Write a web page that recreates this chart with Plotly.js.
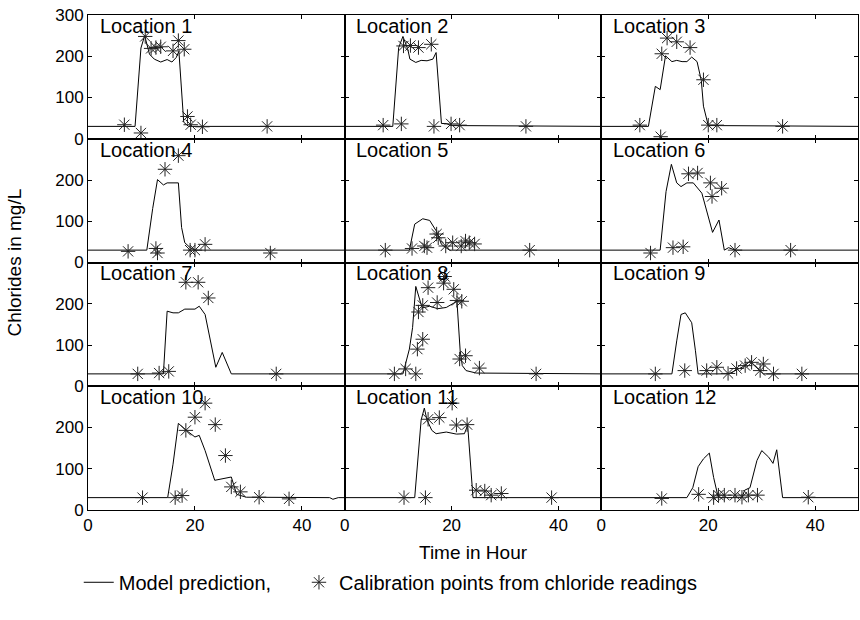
<!DOCTYPE html>
<html>
<head>
<meta charset="utf-8">
<script src="https://cdn.plot.ly/plotly-3.0.1.min.js"></script>
<style>html,body{margin:0;padding:0;background:#fff;}#chart{width:860px;height:620px;}</style>
</head>
<body>
<div id="chart"></div>
<script>
// ---- Data (time in hours, chlorides in mg/L) ----
const locationNames = ['Location 1','Location 2','Location 3','Location 4','Location 5','Location 6',
  'Location 7','Location 8','Location 9','Location 10','Location 11','Location 12'];
const xTicks = [0, 20, 40];
const yTicks = [0, 100, 200, 300];

const modelT1 = [0, 8.8, 9.9, 10.6, 11.5, 12.4, 13.6, 14.8, 15.7, 16.5, 17.0, 17.9, 18.8, 48];
const modelV1 = [30, 30, 220, 250, 205, 193, 186, 192, 186, 197, 212, 40, 30, 30];
const calT1 = [6.8, 9.9, 10.7, 11.8, 12.7, 13.6, 15.9, 16.9, 18.0, 18.6, 19.2, 21.4, 33.5];
const calV1 = [34, 14, 248, 219, 221, 223, 213, 238, 217, 54, 34, 29, 30];

const modelT2 = [0, 9.0, 10.1, 10.9, 11.8, 12.2, 13.3, 14.3, 15.4, 16.5, 17.1, 18.1, 19.0, 19.9, 48];
const modelV2 = [30, 30, 221, 248, 217, 193, 185, 190, 189, 193, 209, 37, 37, 32, 30];
const calT2 = [7.2, 10.6, 11.0, 12.3, 13.8, 16.2, 16.7, 19.9, 21.5, 33.9];
const calV2 = [33, 36, 225, 226, 221, 229, 30, 36, 33, 30];

const modelT3 = [0, 8.8, 10.1, 11.0, 12.0, 13.2, 14.1, 15.1, 16.0, 16.9, 17.9, 18.7, 19.1, 20.0, 48];
const modelV3 = [30, 30, 127, 119, 201, 187, 190, 187, 187, 198, 187, 141, 79, 32, 30];
const calT3 = [7.2, 11.1, 11.3, 12.3, 14.1, 16.6, 19.1, 20.0, 21.6, 33.9];
const calV3 = [33, 5, 206, 244, 235, 221, 143, 33, 33, 30];

const modelT4 = [0, 11.0, 12.1, 13.0, 14.1, 14.8, 16.9, 17.5, 18.1, 19.1, 20.0, 48];
const modelV4 = [30, 30, 131, 201, 188, 193, 193, 85, 48, 36, 30, 30];
const calT4 = [7.5, 12.7, 13.0, 14.4, 16.9, 19.1, 20.0, 21.9, 34.1];
const calV4 = [27, 34, 23, 226, 259, 30, 30, 44, 23];

const modelT5 = [0, 12.1, 13.1, 14.6, 15.9, 17.1, 18.1, 18.9, 19.6, 48];
const modelV5 = [30, 30, 93, 106, 102, 77, 44, 36, 30, 30];
const calT5 = [7.6, 12.6, 14.9, 15.4, 17.2, 17.5, 18.9, 20.2, 21.8, 22.6, 23.3, 24.3, 34.6];
const calV5 = [30, 34, 40, 36, 69, 60, 40, 48, 40, 52, 48, 45, 30];

const modelT6 = [0, 11.0, 12.1, 13.1, 14.1, 14.9, 16.0, 17.2, 18.8, 19.7, 20.8, 22.0, 23.0, 23.8, 25.0, 48];
const modelV6 = [30, 30, 172, 238, 193, 184, 193, 193, 168, 126, 73, 103, 30, 36, 30, 30];
const calT6 = [9.2, 13.4, 15.3, 16.3, 18.0, 20.4, 20.7, 22.5, 25.0, 35.4];
const calV6 = [23, 36, 38, 215, 217, 193, 160, 180, 30, 30];

const modelT7 = [0, 14.1, 14.8, 15.9, 16.9, 18.1, 20.0, 20.8, 21.9, 22.8, 23.9, 25.1, 26.8, 48];
const modelV7 = [30, 30, 182, 178, 178, 187, 187, 194, 174, 118, 46, 82, 30, 30];
const calT7 = [9.3, 13.3, 15.1, 18.3, 20.6, 22.5, 35.2];
const calV7 = [30, 32, 36, 252, 252, 214, 30];

const modelT8 = [0, 10.9, 12.1, 12.7, 13.3, 14.5, 15.9, 17.4, 19.0, 20.5, 21.0, 21.6, 22.0, 22.7, 24.6, 48];
const modelV8 = [30, 30, 90, 142, 242, 190, 194, 188, 191, 202, 206, 86, 50, 38, 32, 30];
const calT8 = [9.3, 11.4, 13.3, 13.6, 14.6, 13.8, 14.6, 15.6, 17.3, 18.5, 18.7, 20.4, 21.0, 21.9, 21.5, 22.6, 25.2, 35.8];
const calV8 = [30, 42, 30, 90, 114, 180, 196, 239, 203, 250, 266, 235, 208, 206, 66, 74, 44, 30];

const modelT9 = [0, 13.2, 14.1, 14.9, 15.7, 16.9, 17.6, 18.1, 23.8, 26.3, 27.8, 29.4, 30.3, 48];
const modelV9 = [30, 30, 110, 174, 178, 154, 86, 30, 30, 46, 60, 42, 30, 30];
const calT9 = [10.1, 15.6, 19.7, 21.6, 23.7, 25.3, 26.9, 28.1, 29.7, 30.3, 32.2, 37.5];
const calV9 = [30, 38, 38, 46, 31, 43, 50, 58, 38, 54, 30, 30];

const modelT10 = [0, 14.9, 15.9, 16.9, 18.4, 20.0, 20.8, 21.9, 23.7, 25.9, 26.8, 27.8, 29.6, 45.2, 45.8, 46.8, 48];
const modelV10 = [30, 30, 111, 210, 193, 177, 181, 144, 72, 77, 80, 38, 31, 30, 26, 30, 30];
const calT10 = [10.2, 16.3, 17.6, 18.3, 20.0, 21.9, 23.8, 25.7, 26.8, 28.5, 32.0, 37.6];
const calV10 = [30, 30, 35, 193, 225, 259, 207, 132, 56, 44, 31, 27];

const modelT11 = [0, 13.1, 14.3, 14.9, 15.4, 16.3, 17.1, 19.0, 20.9, 22.4, 23.0, 23.8, 24.0, 48];
const modelV11 = [30, 30, 218, 247, 218, 193, 185, 189, 184, 185, 206, 54, 30, 30];
const calT11 = [11.1, 15.1, 15.6, 17.7, 20.1, 20.9, 22.9, 24.6, 26.2, 27.4, 29.3, 38.7];
const calV11 = [30, 30, 220, 224, 259, 206, 207, 48, 46, 36, 40, 30];

const modelT12 = [0, 16.0, 17.1, 18.1, 19.1, 20.2, 21.0, 21.8, 22.2, 26.3, 26.8, 27.8, 29.1, 30.0, 31.3, 32.1, 32.8, 33.9, 48];
const modelV12 = [30, 30, 54, 105, 124, 138, 79, 34, 30, 30, 48, 54, 120, 144, 128, 113, 146, 30, 30];
const calT12 = [11.3, 18.2, 21.0, 21.9, 23.0, 25.0, 26.3, 27.5, 29.2, 38.7];
const calV12 = [28, 38, 30, 36, 36, 36, 31, 36, 36, 31];

const modelTs = [modelT1, modelT2, modelT3, modelT4, modelT5, modelT6, modelT7, modelT8, modelT9, modelT10, modelT11, modelT12];
const modelVs = [modelV1, modelV2, modelV3, modelV4, modelV5, modelV6, modelV7, modelV8, modelV9, modelV10, modelV11, modelV12];
const calTs = [calT1, calT2, calT3, calT4, calT5, calT6, calT7, calT8, calT9, calT10, calT11, calT12];
const calVs = [calV1, calV2, calV3, calV4, calV5, calV6, calV7, calV8, calV9, calV10, calV11, calV12];

// ---- Build figure ----
const FONT = 'Liberation Sans, Arial, sans-serif';
const traces = [];
const legendCommon = {orientation: 'h', xanchor: 'left', y: -0.146, yanchor: 'middle',
  font: {family: FONT, size: 20, color: '#000'}, bgcolor: 'rgba(0,0,0,0)', itemwidth: 30};
const layout = {
  width: 860, height: 620,
  margin: {l: 88, r: 2, t: 15, b: 110},
  paper_bgcolor: '#ffffff', plot_bgcolor: '#ffffff',
  font: {family: FONT, size: 17, color: '#000'},
  showlegend: true,
  legend: Object.assign({x: -0.012}, legendCommon),
  legend2: Object.assign({x: 0.274}, legendCommon),
  annotations: []
};

for (let i = 0; i < 12; i++) {
  const row = Math.floor(i / 3), col = i % 3;
  const n = i + 1;
  const xa = n === 1 ? 'x' : 'x' + n;
  const ya = n === 1 ? 'y' : 'y' + n;
  traces.push({
    x: modelTs[i], y: modelVs[i], xaxis: xa, yaxis: ya, type: 'scatter', mode: 'lines',
    line: {color: '#000', width: 1}, name: 'Model prediction,', showlegend: i === 0,
    legend: 'legend', hoverinfo: 'skip'
  });
  traces.push({
    x: calTs[i], y: calVs[i], xaxis: xa, yaxis: ya, type: 'scatter', mode: 'markers',
    marker: {symbol: 'asterisk-open', size: 12, color: '#222', line: {color: '#222', width: 1}},
    name: 'Calibration points from chloride readings', showlegend: i === 0,
    legend: 'legend2', hoverinfo: 'skip'
  });
  const xKey = n === 1 ? 'xaxis' : 'xaxis' + n;
  const yKey = n === 1 ? 'yaxis' : 'yaxis' + n;
  layout[xKey] = {
    domain: [col / 3, (col + 1) / 3], anchor: ya, range: [0, 48],
    tickmode: 'array', tickvals: xTicks, ticktext: xTicks.map(String),
    showticklabels: row === 3, ticks: 'inside', ticklen: 4, tickcolor: '#000',
    showline: true, mirror: 'ticks', linecolor: '#000', linewidth: 1,
    showgrid: false, zeroline: false, fixedrange: true,
    tickfont: {family: FONT, size: 17, color: '#000'}
  };
  const yVals = row === 0 ? yTicks : yTicks.slice(0, 3);
  layout[yKey] = {
    domain: [1 - (row + 1) / 4, 1 - row / 4], anchor: xa, range: [0, 300],
    tickmode: 'array', tickvals: yVals, ticktext: yVals.map(String),
    showticklabels: col === 0, ticks: 'inside', ticklen: 4, tickcolor: '#000',
    showline: true, mirror: 'ticks', linecolor: '#000', linewidth: 1,
    showgrid: false, zeroline: false, fixedrange: true,
    tickfont: {family: FONT, size: 17, color: '#000'}
  };
  layout.annotations.push({
    text: locationNames[i], xref: xa + ' domain', yref: ya + ' domain',
    x: 0.042, y: 1.01, xanchor: 'left', yanchor: 'top', showarrow: false,
    font: {family: FONT, size: 20, color: '#000'}, borderpad: 0
  });
}

layout.annotations.push({
  text: 'Time in Hour', xref: 'paper', yref: 'paper', x: 0.5, y: -0.085,
  xanchor: 'center', yanchor: 'middle', showarrow: false,
  font: {family: FONT, size: 19, color: '#000'}
});
layout.annotations.push({
  text: 'Chlorides in mg/L', xref: 'paper', yref: 'paper', x: -0.096, y: 0.5,
  xanchor: 'center', yanchor: 'middle', showarrow: false, textangle: -90,
  font: {family: FONT, size: 19, color: '#000'}
});

Plotly.newPlot('chart', traces, layout, {staticPlot: true, displayModeBar: false});
</script>
</body>
</html>
